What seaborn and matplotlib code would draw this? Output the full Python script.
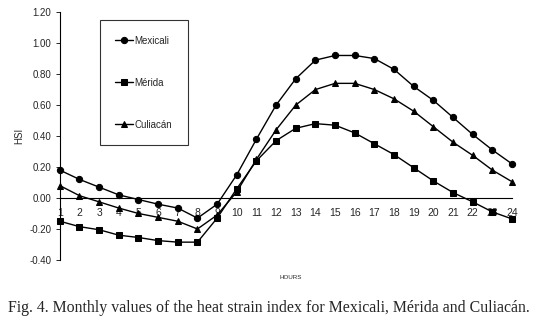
import numpy as np
import pandas as pd
import seaborn as sns
import matplotlib.pyplot as plt

hours = list(range(1, 25))
mexicali = [0.18, 0.12, 0.07, 0.02, -0.01, -0.04, -0.065, -0.13, -0.04, 0.15, 0.38, 0.60,
            0.77, 0.89, 0.92, 0.92, 0.90, 0.83, 0.72, 0.63, 0.52, 0.41, 0.31, 0.22]
merida = [-0.15, -0.185, -0.205, -0.24, -0.255, -0.275, -0.285, -0.285, -0.13, 0.06, 0.24, 0.37,
          0.45, 0.48, 0.47, 0.42, 0.35, 0.28, 0.195, 0.11, 0.035, -0.025, -0.09, -0.135]
culiacan = [0.08, 0.015, -0.025, -0.065, -0.10, -0.125, -0.15, -0.20, -0.11, 0.04, 0.25, 0.44,
            0.60, 0.70, 0.74, 0.74, 0.70, 0.64, 0.56, 0.46, 0.36, 0.275, 0.18, 0.105]
cities = ["Mexicali", "Mérida", "Culiacán"]

df = pd.DataFrame({
    "hour": hours * 3,
    "HSI": mexicali + merida + culiacan,
    "city": [c for c in cities for _ in hours],
})

sns.set_style("white")
plt.rcParams['font.family'] = ['Liberation Sans', 'DejaVu Sans']

fig = plt.figure(figsize=(5.39, 3.27), dpi=100)
ax = fig.add_axes([0.111, 0.205, 0.839, 0.758])

sns.lineplot(data=df, x="hour", y="HSI", hue="city", style="city",
             palette=["black"] * 3, markers=["o", "s", "^"], dashes=False,
             markersize=4.5, linewidth=1.0, markeredgecolor="black",
             ax=ax, clip_on=False)

ax.set_xlim(1, 24)
ax.set_ylim(-0.40, 1.20)
ax.set_yticks(np.arange(-0.4, 1.21, 0.2))
ax.yaxis.set_major_formatter(plt.FormatStrFormatter("%.2f"))
ax.set_xticks(hours)

ax.spines["top"].set_visible(False)
ax.spines["right"].set_visible(False)
ax.spines["bottom"].set_position(("data", 0))
for s in ("left", "bottom"):
    ax.spines[s].set_linewidth(0.8)
    ax.spines[s].set_color("black")

ax.tick_params(axis="x", direction="inout", length=4, width=0.7, labelsize=7.5, pad=5)
ax.tick_params(axis="y", direction="out", length=3, width=0.7, labelsize=7, left=True, pad=3)

ax.set_xlabel("")
ax.set_ylabel("HSI", fontsize=7, labelpad=4)
fig.text(0.54, 0.152, "HOURS", fontsize=4.5, ha="center", va="center")

leg = ax.legend(loc="upper left", bbox_to_anchor=(0.088, 0.968), frameon=True,
                fancybox=False, fontsize=7, labelspacing=3.3, handlelength=1.8,
                borderpad=1.6, handletextpad=0.2, borderaxespad=0)
leg.get_frame().set_edgecolor("black")
leg.get_frame().set_linewidth(0.8)

fig.text(0.499, 0.058, "Fig. 4. Monthly values of the heat strain index for Mexicali, Mérida and Culiacán.",
         fontsize=11.4, ha="center", va="center", family=["Liberation Serif", "DejaVu Serif"])

fig.savefig("out.png", dpi=100)
